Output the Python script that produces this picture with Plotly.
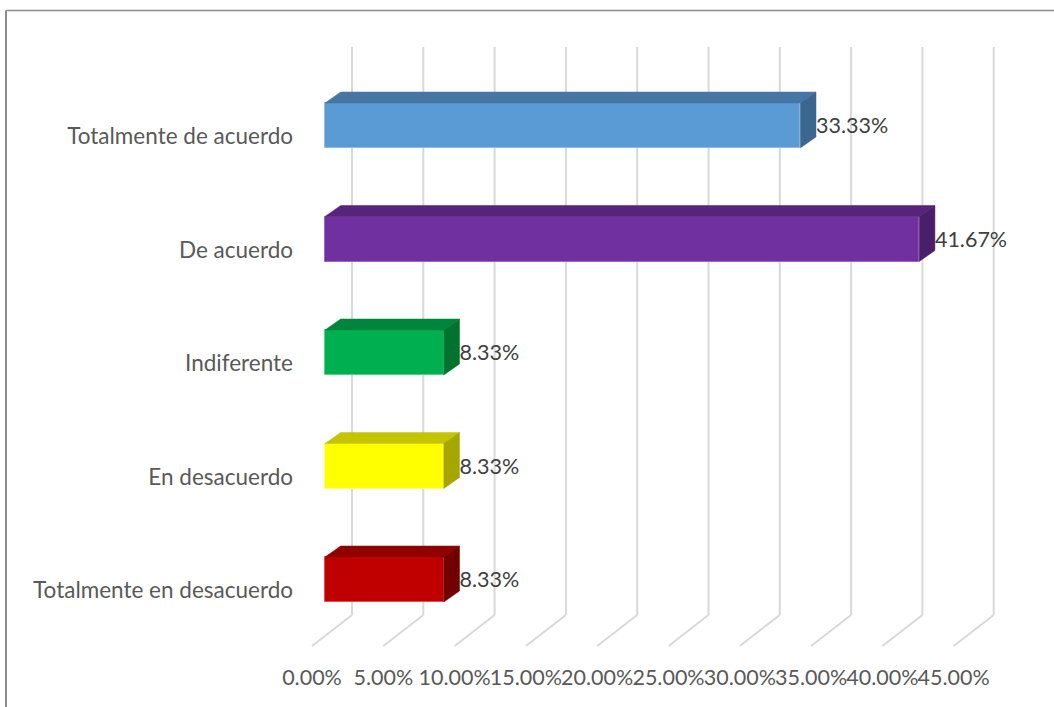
import plotly.graph_objects as go

# Survey response categories (top to bottom) and their shares in percent
categories = [
    "Totalmente de acuerdo",
    "De acuerdo",
    "Indiferente",
    "En desacuerdo",
    "Totalmente en desacuerdo",
]
shares = [33.33, 41.67, 8.33, 8.33, 8.33]
tick_values = [0, 5, 10, 15, 20, 25, 30, 35, 40, 45]
tick_labels = ["0.00%", "5.00%", "10.00%", "15.00%", "20.00%",
               "25.00%", "30.00%", "35.00%", "40.00%", "45.00%"]

front_colors = ["#5B9BD5", "#7030A0", "#00B050", "#FFFF00", "#C00000"]
top_colors = ["#4676A3", "#56247B", "#00853D", "#C4C400", "#900000"]
side_colors = ["#3B6690", "#4A1F6A", "#00742F", "#A6A600", "#720000"]
edge_colors = ["#8DBBE6", "#9A66C2", "#4DD68A", "#FFFF80", "#E05050"]

# ---- projection / layout geometry (pixels) ----
W, H = 1054, 707
PLOT_L, PLOT_R, PLOT_T, PLOT_B = 300, 0, 0, 45
PX_PER_PCT = 71.3 / 5.0          # horizontal scale
FRONT_ZERO_PX = 325.0            # x pixel of 0% on the bar front faces
ROW_PX = 113.5                   # vertical distance between categories
ROW0_PX = 579.5                  # y pixel of lowest category centre

plot_w = W - PLOT_L - PLOT_R
plot_h = H - PLOT_T - PLOT_B
x_range = [(PLOT_L - FRONT_ZERO_PX) / PX_PER_PCT,
           (W - PLOT_R - FRONT_ZERO_PX) / PX_PER_PCT]
y_range = [(ROW0_PX - (H - PLOT_B)) / ROW_PX, (ROW0_PX - PLOT_T) / ROW_PX]


def dx(px):
    return px / PX_PER_PCT


def dy(px):
    return px / ROW_PX


half_h = dy(22.5)                 # half thickness of a bar
depth_x, depth_y = dx(15.7), dy(11)   # oblique depth of a bar
wall_x = dx(27)                   # back wall offset from bar fronts
floor_front_x = dx(-13)           # floor front edge offset
wall_top_y = (ROW0_PX - 47) / ROW_PX
wall_bot_y = (ROW0_PX - 615) / ROW_PX
floor_front_y = (ROW0_PX - 646) / ROW_PX

n = len(categories)
rows = [n - 1 - k for k in range(n)]   # vertical slot of each category

fig = go.Figure()

# front faces of the bars
fig.add_trace(go.Bar(
    y=rows, x=shares, base=0, orientation="h", width=2 * half_h,
    marker=dict(color=front_colors, line=dict(color=edge_colors, width=1)),
    hoverinfo="skip", showlegend=False,
))

# top and side faces
for k, (r, v) in enumerate(zip(rows, shares)):
    fig.add_trace(go.Scatter(
        x=[0, v, v + depth_x, depth_x, 0],
        y=[r + half_h, r + half_h, r + half_h + depth_y, r + half_h + depth_y, r + half_h],
        fill="toself", fillcolor=top_colors[k], mode="lines",
        line=dict(color=top_colors[k], width=0.5),
        hoverinfo="skip", showlegend=False,
    ))
    fig.add_trace(go.Scatter(
        x=[v, v + depth_x, v + depth_x, v, v],
        y=[r - half_h, r - half_h + depth_y, r + half_h + depth_y, r + half_h, r - half_h],
        fill="toself", fillcolor=side_colors[k], mode="lines",
        line=dict(color=side_colors[k], width=0.5),
        hoverinfo="skip", showlegend=False,
    ))

# value labels beside each bar
fig.add_trace(go.Scatter(
    x=[v + depth_x for v in shares], y=[r - dy(2.5) for r in rows],
    text=[f"{v:.2f}%" for v in shares], mode="text",
    textposition="middle right",
    textfont=dict(family="Lato", size=21.5, color="#404040"),
    hoverinfo="skip", showlegend=False, cliponaxis=False,
))

# carrier for the value axis labels along the floor's front edge
fig.add_trace(go.Scatter(
    x=tick_values, y=[None] * len(tick_values), xaxis="x2",
    mode="markers", hoverinfo="skip", showlegend=False,
))

# gridlines: vertical on the back wall, slanted across the floor
shapes = []
for t in tick_values:
    shapes.append(dict(type="line", xref="x", yref="y", layer="below",
                       x0=t + wall_x, x1=t + wall_x, y0=wall_top_y, y1=wall_bot_y,
                       line=dict(color="#D9D9D9", width=2)))
    shapes.append(dict(type="line", xref="x", yref="y", layer="below",
                       x0=t + wall_x, x1=t + floor_front_x, y0=wall_bot_y, y1=floor_front_y,
                       line=dict(color="#D9D9D9", width=2)))

# chart area border (left and top edges)
bx = (6 - PLOT_L) / plot_w
by = 1 - (10.5 - PLOT_T) / plot_h
shapes.append(dict(type="line", xref="paper", yref="paper",
                   x0=bx, x1=bx, y0=by, y1=-1,
                   line=dict(color="#8C8C8C", width=2)))
shapes.append(dict(type="line", xref="paper", yref="paper",
                   x0=bx, x1=1.2, y0=by, y1=by,
                   line=dict(color="#8C8C8C", width=1.3)))

cat_font = dict(family="Lato", size=22.5, color="#595959")
num_font = dict(family="Lato", size=21.5, color="#595959")

fig.update_layout(
    width=W, height=H,
    margin=dict(l=PLOT_L, r=PLOT_R, t=PLOT_T, b=PLOT_B, autoexpand=False),
    paper_bgcolor="white", plot_bgcolor="white",
    bargap=0, showlegend=False,
    shapes=shapes,
    xaxis=dict(range=x_range, visible=False, fixedrange=True, automargin=False),
    xaxis2=dict(range=[x_range[0] - floor_front_x, x_range[1] - floor_front_x],
                overlaying="x", side="bottom", anchor="y",
                tickmode="array", tickvals=tick_values, ticktext=tick_labels,
                tickangle=0, automargin=False,
                showgrid=False, zeroline=False, showline=False, ticks="",
                tickfont=num_font, fixedrange=True),
    yaxis=dict(range=y_range, tickmode="array",
               tickvals=[r - dy(11) for r in rows], ticktext=categories,
               showgrid=False, zeroline=False, showline=False, ticks="",
               ticklabelstandoff=6, automargin=False,
               tickfont=cat_font, fixedrange=True),
)

fig.write_html("out.html")
